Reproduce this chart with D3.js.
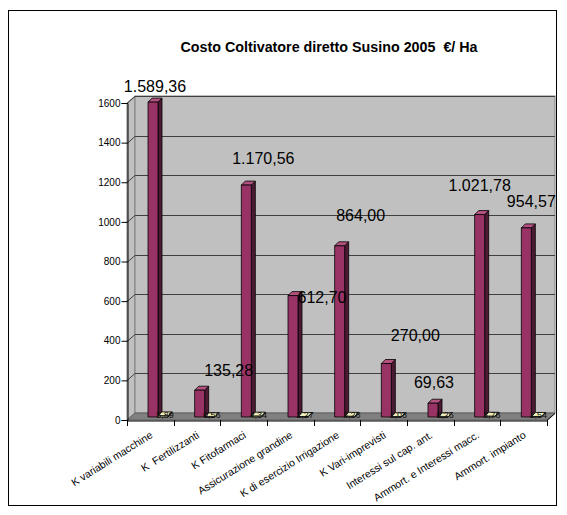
<!DOCTYPE html>
<html><head><meta charset="utf-8">
<script src="https://cdn.jsdelivr.net/npm/d3@7"></script>
<style>
html,body{margin:0;padding:0;background:#fff;}
svg text{font-family:"Liberation Sans",Arial,sans-serif;}
</style></head>
<body>
<svg id="c" width="567" height="515"></svg>
<script>
const title = "Costo Coltivatore diretto Susino 2005  €/ Ha";
const categories = ["K variabili macchine","K  Fertilizzanti","K Fitofarmaci","Assicurazione grandine","K di esercizio Irrigazione","K Vari-imprevisti","Interessi sul cap. ant.","Ammort. e Interessi macc.","Ammort. impianto"];
const costValues = [1589.36,135.28,1170.56,612.70,864.00,270.00,69.63,1021.78,954.57];
const costLabels = ["1.589,36","135,28","1.170,56","612,70","864,00","270,00","69,63","1.021,78","954,57"];
const smallValues = [5.89,0.56,4.34,2.27,3.28,1.08,0.26,3.78,2.54];
const smallLabels = ["5,89","0,56","4,34","2,27","3,28","1,08","0,26","3,78","2,54"];
const yTicks = [0,200,400,600,800,1000,1200,1400,1600];

// layout-only label nudges (px) mimicking the hand-placed labels
const labelNudge = [[0,3],[27,-1],[15,-8],[27,20],[19,-12],[27,-10],[-1,-2],[-2,-11],[3,-8]];

const svg = d3.select("#c");
const X0 = 127, X1 = 547, Y0 = 420, Y1 = 103;
const DX = 8, DY = -7;      // wall depth
const BS = 3;               // bar depth shift
const BD = 4;               // bar depth

const x = d3.scaleBand().domain(categories).range([X0, X1]);
const y = d3.scaleLinear().domain([0,1600]).range([Y0, Y1]);

// frame
svg.append("rect").attr("x",8.5).attr("y",10.5).attr("width",548).attr("height",495)
  .attr("fill","#fff").attr("stroke","#000").attr("stroke-width",1);

// title
svg.append("text").attr("x",329).attr("y",52).attr("text-anchor","middle")
  .style("white-space","pre").attr("xml:space","preserve")
  .attr("font-size",14.3).attr("font-weight","bold").text(title);

// walls
const g = svg.append("g");
g.append("polygon").attr("points",[[X0,Y0],[X0,Y1],[X0+DX,Y1+DY],[X0+DX,Y0+DY]].join(" "))
  .attr("fill","#c0c0c0").attr("stroke","#808080");
g.append("rect").attr("x",X0+DX).attr("y",Y1+DY).attr("width",X1-X0).attr("height",Y0-Y1)
  .attr("fill","#c0c0c0").attr("stroke","#808080");
g.append("polygon").attr("points",[[X0,Y0],[X1,Y0],[X1+DX,Y0+DY],[X0+DX,Y0+DY]].join(" "))
  .attr("fill","#808080").attr("stroke","#606060");

// gridlines
yTicks.filter(v=>v>0).forEach(v=>{
  const yy = Math.round(y(v))+0.5;
  g.append("polyline").attr("points",[[X0,yy],[X0+DX,yy+DY],[X1+DX,yy+DY]].join(" "))
    .attr("fill","none").attr("stroke","#404040").attr("stroke-width",1);
});

// y axis
const yAxis = d3.axisLeft(y).tickValues(yTicks).tickSize(6).tickPadding(1).tickFormat(d3.format("d"));
const ya = svg.append("g").attr("transform",`translate(${X0+0.5},0)`).call(yAxis);
ya.select(".domain").attr("stroke","#000");
ya.selectAll("text").attr("font-size",10).attr("fill","#000");

// x axis
const xAxis = d3.axisBottom(x).tickValues([]).tickSize(0);
const xa = svg.append("g").attr("transform",`translate(0,${Y0+0.5})`).call(xAxis);
xa.select(".domain").attr("stroke","#000");
const bounds = categories.map((c,i)=>x(c)).concat([X1]);
bounds.forEach(b=>{
  svg.append("line").attr("x1",Math.round(b)+0.5).attr("x2",Math.round(b)+0.5)
    .attr("y1",Y0).attr("y2",Y0+6).attr("stroke","#000");
});
svg.append("line").attr("x1",X1).attr("y1",Y0+0.5).attr("x2",X1+DX).attr("y2",Y0+DY+0.5).attr("stroke","#000");

// category labels
svg.selectAll(".cat").data(categories).enter().append("text")
  .attr("font-size",10.5).attr("text-anchor","end")
  .style("white-space","pre")
  .attr("transform",d=>`translate(${x(d)+x.bandwidth()/2+3},${Y0+17}) rotate(-32)`)
  .text(d=>d);

// 3D bars
function bar3d(parent, x0, val, w, front, side, top){
  const yb = Y0 - BS, yt = y(val) - BS, xs = x0 + BS;
  const gg = parent.append("g").attr("stroke","#000").attr("stroke-width",0.8).attr("stroke-linejoin","round");
  gg.append("polygon").attr("points",[[xs+w,yb],[xs+w+BD,yb-BD],[xs+w+BD,yt-BD],[xs+w,yt]].join(" ")).attr("fill",side);
  gg.append("polygon").attr("points",[[xs,yt],[xs+w,yt],[xs+w+BD,yt-BD],[xs+BD,yt-BD]].join(" ")).attr("fill",top);
  gg.append("rect").attr("x",xs).attr("y",yt).attr("width",w).attr("height",Math.max(0,yb-yt)).attr("fill",front);
}
const BW = 10, GOFF = 18;
const bars = svg.append("g");
categories.forEach((c,i)=>{
  const bx = x(c)+GOFF;
  bar3d(bars, bx, costValues[i], BW, "#993366", "#4d1a33", "#b3527f");
  bar3d(bars, bx+BW, smallValues[i], BW, "#ffffcc", "#99997a", "#eeeebb");
});

// small labels
svg.selectAll(".sl").data(smallValues).enter().append("text")
  .attr("font-size",9).attr("text-anchor","middle").attr("fill","#111")
  .attr("x",(d,i)=>x(categories[i])+GOFF+BW+BS+BW/2+2)
  .attr("y",Y0-2)
  .text((d,i)=>smallLabels[i]);

// main labels
svg.selectAll(".ml").data(costValues).enter().append("text")
  .attr("font-size",16).attr("text-anchor","middle").attr("fill","#000")
  .attr("x",(d,i)=>x(categories[i])+GOFF+BS+BW/2+2+labelNudge[i][0])
  .attr("y",(d,i)=>y(d)-BS-13+labelNudge[i][1])
  .text((d,i)=>costLabels[i]);
</script>
</body></html>
